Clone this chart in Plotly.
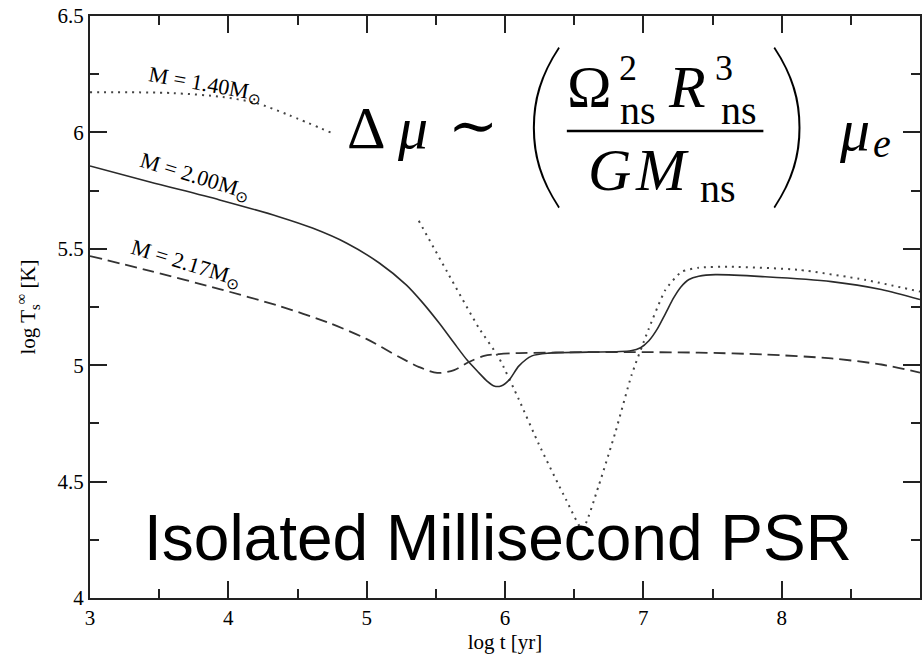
import plotly.graph_objects as go

# ---- data ----
x_m140_a = [3.0, 3.595, 3.956, 4.201, 4.439, 4.75]
y_m140_a = [6.173, 6.169, 6.152, 6.126, 6.074, 5.997]
x_m140_b = [5.377, 5.593, 5.81, 5.955, 6.10, 6.245, 6.44, 6.56, 6.676, 6.80, 6.914, 7.037,
            7.16, 7.275, 7.40, 7.635, 8.12, 8.60, 9.0]
y_m140_b = [5.62, 5.389, 5.161, 5.033, 4.853, 4.66, 4.424, 4.295, 4.48, 4.716, 4.956, 5.153,
            5.324, 5.401, 5.419, 5.423, 5.41, 5.367, 5.316]

x_m200 = [3.0, 3.433, 3.937, 4.370, 4.608, 4.853, 5.091, 5.286, 5.401, 5.524, 5.632, 5.726,
          5.812, 5.870, 5.921, 5.971, 6.029, 6.101, 6.195, 6.317, 6.6, 6.91, 6.98, 7.04, 7.10,
          7.16, 7.22, 7.27, 7.33, 7.40, 7.52, 7.88, 8.36, 8.72, 9.0]
y_m200 = [5.856, 5.787, 5.710, 5.637, 5.589, 5.525, 5.439, 5.345, 5.271, 5.181, 5.095, 5.022,
          4.967, 4.932, 4.911, 4.911, 4.936, 4.997, 5.040, 5.052, 5.056, 5.062, 5.075, 5.105,
          5.155, 5.222, 5.29, 5.335, 5.368, 5.382, 5.389, 5.38, 5.359, 5.325, 5.282]

x_m217 = [3.0, 3.433, 3.937, 4.370, 4.731, 4.998, 5.236, 5.380, 5.510, 5.632, 5.740, 5.849,
          5.957, 6.101, 6.6, 7.0, 7.4, 7.88, 8.36, 8.72, 9.0]
y_m217 = [5.469, 5.405, 5.327, 5.254, 5.181, 5.113, 5.035, 4.992, 4.967, 4.979, 5.014, 5.040,
          5.048, 5.052, 5.056, 5.056, 5.054, 5.046, 5.029, 5.003, 4.968]

x_ticks = [3, 4, 5, 6, 7, 8, 9]
y_ticks = [4, 4.5, 5, 5.5, 6, 6.5]
y_tick_labels = ["4", "4.5", "5", "5.5", "6", "6.5"]
labels = ["M = 1.40M<sub>⊙</sub>", "M = 2.00M<sub>⊙</sub>", "M = 2.17M<sub>⊙</sub>"]

W, H = 924, 658
ML, MR, MT, MB = 90, 2, 16, 60
PW, PH = W - ML - MR, H - MT - MB


def px(p):
    return (p - ML) / PW


def py(p):
    return (H - MB - p) / PH


SERIF = "Liberation Serif"

fig = go.Figure()
fig.add_trace(go.Scatter(x=x_m140_a, y=y_m140_a, mode="lines",
                         line=dict(color="#444", width=2, dash="2px,5px", shape="spline", smoothing=0.8),
                         hoverinfo="skip"))
fig.add_trace(go.Scatter(x=x_m140_b, y=y_m140_b, mode="lines",
                         line=dict(color="#444", width=2, dash="2px,5px", shape="spline", smoothing=0.5),
                         hoverinfo="skip"))
fig.add_trace(go.Scatter(x=x_m200, y=y_m200, mode="lines",
                         line=dict(color="#2a2a2a", width=1.6, shape="spline", smoothing=0.8),
                         hoverinfo="skip"))
fig.add_trace(go.Scatter(x=x_m217, y=y_m217, mode="lines",
                         line=dict(color="#333", width=1.8, dash="12px,6px", shape="spline", smoothing=0.8),
                         hoverinfo="skip"))

annotations = []


def add_text(text, cx, cy, size, family=SERIF, angle=0, weight=None):
    font = dict(family=family, size=size, color="black")
    if weight is not None:
        font["weight"] = weight
    annotations.append(dict(text=text, x=px(cx), y=py(cy), xref="paper", yref="paper",
                            xanchor="center", yanchor="middle", showarrow=False, borderpad=0,
                            textangle=angle, font=font))


def add_base(text, cx, baseline, size):
    add_text(text, cx, baseline - 0.3375 * size, size)


# curve labels
add_text(labels[0], 205, 85, 22, angle=10)
add_text(labels[1], 195, 177, 22, angle=17)
add_text(labels[2], 186, 264, 22, angle=17)

# formula
FS, FSS, FSP = 60, 40, 36
add_base("Δ", 367, 148, FS)
add_base("<i>μ</i>", 413, 148, FS)
add_text("∼", 474, 125, FS, family="DejaVu Serif")
add_text("(", 545, 114, 185, family="Lato", weight=200)
add_base("Ω", 591, 107, FS)
add_base("2", 629, 80, FSP)
add_base("ns", 639, 124, FSS)
add_base("<i>R</i>", 688, 107, FS)
add_base("3", 726, 80, FSP)
add_base("ns", 741, 124, FSS)
add_base("<i>G</i>", 611, 190, FS)
add_base("<i>M</i>", 663, 190, FS)
add_base("ns", 720, 202, FSS)
add_text(")", 791, 114, 185, family="Lato", weight=200)
add_base("<i>μ</i>", 856, 150, FS)
add_base("<i>e</i>", 884, 157, FSS)

# big title text
add_text("Isolated Millisecond PSR", 499, 538, 64, family="Liberation Sans")

fig.add_shape(type="line", xref="paper", yref="paper", x0=px(568), x1=px(765), y0=py(131), y1=py(131),
              line=dict(color="black", width=2.5))

axis_common = dict(showgrid=False, zeroline=False, showline=True, linecolor="#222", linewidth=2,
                   mirror="allticks", ticks="inside", tickcolor="#222", tickwidth=1.5,
                   tickfont=dict(family=SERIF, size=21, color="black"))

fig.update_xaxes(range=[3, 9], tickvals=x_ticks, ticklen=17,
                 minor=dict(ticks="inside", ticklen=9, dtick=0.5, tickcolor="#222", tickwidth=1.5),
                 title=dict(text="log t [yr]", font=dict(family=SERIF, size=21, color="black"), standoff=2),
                 **axis_common)
fig.update_yaxes(range=[4, 6.5], tickvals=y_ticks, ticktext=y_tick_labels, ticklen=17,
                 minor=dict(ticks="inside", ticklen=9, dtick=0.25, tickcolor="#222", tickwidth=1.5),
                 title=dict(text="log T<sub>s</sub><sup>∞</sup> [K]",
                            font=dict(family=SERIF, size=21, color="black"), standoff=16),
                 **axis_common)

fig.update_layout(width=W, height=H, margin=dict(l=ML, r=MR, t=MT, b=MB),
                  plot_bgcolor="white", paper_bgcolor="white", showlegend=False,
                  annotations=annotations)

fig.write_html("out.html")
